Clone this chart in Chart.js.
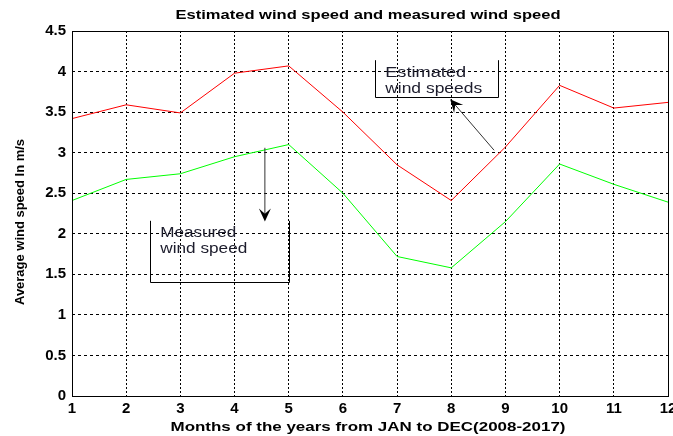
<!DOCTYPE html>
<html>
<head>
<meta charset="utf-8">
<script src="https://cdn.jsdelivr.net/npm/chart.js@4.4.0/dist/chart.umd.min.js"></script>
<style>
html,body{margin:0;padding:0;background:#fff}
</style>
</head>
<body>
<canvas id="myChart" width="673" height="436"></canvas>
<script>
// data
const months = [1,2,3,4,5,6,7,8,9,10,11,12];
const estimated = [3.42,3.59,3.49,3.98,4.07,3.50,2.85,2.41,3.07,3.83,3.55,3.62];
const measured  = [2.41,2.67,2.74,2.95,3.10,2.50,1.72,1.58,2.15,2.86,2.61,2.39];
const titleText = 'Estimated wind speed and measured wind speed';
const xTitle = 'Months of the years from JAN to DEC(2008-2017)';
const yTitle = 'Average wind speed In m/s';

function toPoints(vals){
    let pts=[];
    for (let i = 0; i < vals.length; i++) {
        pts.push({x: months[i], y: vals[i]});
    }
    return pts;
}

function stretchText(ctx, txt, cx, cy, w, font, rot, align){
    ctx.save();
    ctx.font = font;
    const m = ctx.measureText(txt).width;
    ctx.translate(cx, cy);
    if (rot) ctx.rotate(rot);
    ctx.scale(w/m, 1);
    ctx.textAlign = align || 'center';
    ctx.textBaseline = align ? 'alphabetic' : 'middle';
    ctx.fillText(txt, 0, 0);
    ctx.restore();
}

function arrow(ctx, x1, y1, x2, y2){
    const ang = Math.atan2(y2-y1, x2-x1);
    const len = 13, half = 6;
    ctx.beginPath();
    ctx.moveTo(x1, y1);
    ctx.lineTo(x2 - Math.cos(ang)*6, y2 - Math.sin(ang)*6);
    ctx.stroke();
    const bx = x2 - Math.cos(ang)*len, by = y2 - Math.sin(ang)*len;
    const nx = -Math.sin(ang), ny = Math.cos(ang);
    const mx = x2 - Math.cos(ang)*len*0.6, my = y2 - Math.sin(ang)*len*0.6;
    ctx.beginPath();
    ctx.moveTo(x2, y2);
    ctx.lineTo(bx + nx*half, by + ny*half);
    ctx.lineTo(mx, my);
    ctx.lineTo(bx - nx*half, by - ny*half);
    ctx.closePath();
    ctx.fill();
}

function bracket(ctx, x, y, x0, x1, yTop, yBot){
    const l = x.getPixelForValue(x0), r = x.getPixelForValue(x1);
    const t = y.getPixelForValue(yTop), b = y.getPixelForValue(yBot);
    ctx.beginPath();
    ctx.moveTo(Math.round(l)+0.5, t);
    ctx.lineTo(Math.round(l)+0.5, Math.round(b)+0.5);
    ctx.lineTo(Math.round(r)+0.5, Math.round(b)+0.5);
    ctx.lineTo(Math.round(r)+0.5, t);
    ctx.stroke();
}

const extras = {
    id: 'extras',
    afterDraw(chart){
        const ctx = chart.ctx;
        const a = chart.chartArea;
        const x = chart.scales.x, y = chart.scales.y;
        ctx.save();
        ctx.strokeStyle = '#000';
        ctx.fillStyle = '#000';
        ctx.lineWidth = 1;
        ctx.strokeRect(Math.round(a.left)+0.5, Math.round(a.top)+0.5, Math.round(a.right-a.left), Math.round(a.bottom-a.top));

        // titles
        const bold = '"Liberation Sans", Arial, sans-serif';
        stretchText(ctx, titleText, 368, 16, 385, 'bold 12px ' + bold);
        stretchText(ctx, xTitle, 368, 427, 395, 'bold 13px ' + bold);
        stretchText(ctx, yTitle, 20, 222, 166, 'bold 13px ' + bold, -Math.PI/2);

        // annotation: measured
        const tf = '14px "Liberation Sans", Arial, sans-serif';
        bracket(ctx, x, y, 2.44, 5.0, 2.16, 1.41);
        ctx.fillStyle = '#1c1c2c';
        stretchText(ctx, 'Measured', x.getPixelForValue(2.63), y.getPixelForValue(1.96), 76, tf, 0, 'left');
        stretchText(ctx, 'wind speed', x.getPixelForValue(2.63), y.getPixelForValue(1.76), 87, tf, 0, 'left');
        ctx.fillStyle = '#000';
        ctx.strokeStyle = '#333';
        arrow(ctx, x.getPixelForValue(4.56), y.getPixelForValue(3.06), x.getPixelForValue(4.56), y.getPixelForValue(2.15));

        // annotation: estimated
        ctx.strokeStyle = '#000';
        bracket(ctx, x, y, 6.6, 8.86, 4.14, 3.69);
        ctx.fillStyle = '#1c1c2c';
        stretchText(ctx, 'Estimated', x.getPixelForValue(6.78), y.getPixelForValue(3.93), 81, tf, 0, 'left');
        stretchText(ctx, 'wind speeds', x.getPixelForValue(6.78), y.getPixelForValue(3.74), 97, tf, 0, 'left');
        ctx.fillStyle = '#000';
        ctx.strokeStyle = '#333';
        arrow(ctx, x.getPixelForValue(8.79), y.getPixelForValue(3.03), x.getPixelForValue(7.98), y.getPixelForValue(3.66));
        ctx.restore();
    }
};

const tickFont = {family: '"Liberation Sans", Arial, sans-serif', size: 15, weight: 'bold'};

const myChart = new Chart(document.getElementById('myChart').getContext('2d'), {
    type: 'line',
    data: {
        datasets: [{
            label: 'Estimated',
            data: toPoints(estimated),
            borderColor: '#ff0000',
            borderWidth: 1,
            pointRadius: 0,
            tension: 0
        },{
            label: 'Measured',
            data: toPoints(measured),
            borderColor: '#00ff00',
            borderWidth: 1,
            pointRadius: 0,
            tension: 0
        }]
    },
    options: {
        responsive: false,
        animation: false,
        devicePixelRatio: 1,
        layout: {padding: {top: 31, right: 5, left: 0, bottom: 0}},
        plugins: {
            legend: {display: false},
            title: {display: false},
            tooltip: {enabled: false}
        },
        scales: {
            x: {
                type: 'linear',
                min: 1,
                max: 12,
                ticks: {stepSize: 1, color: '#000', font: tickFont, padding: 4, maxRotation: 0},
                grid: {color: '#000', drawTicks: false},
                border: {display: false, dash: [2,2]},
                afterFit: function(s){ s.height = 40; s.paddingLeft = 0; s.paddingRight = 0; }
            },
            y: {
                min: 0,
                max: 4.5,
                ticks: {stepSize: 0.5, color: '#000', font: tickFont, padding: 6,
                    callback: function(v){ return String(v); }},
                grid: {color: '#000', drawTicks: false},
                border: {display: false, dash: [3,3]},
                afterFit: function(s){ s.width = 72; s.paddingTop = 0; s.paddingBottom = 0; }
            }
        }
    },
    plugins: [extras]
});
</script>
</body>
</html>
